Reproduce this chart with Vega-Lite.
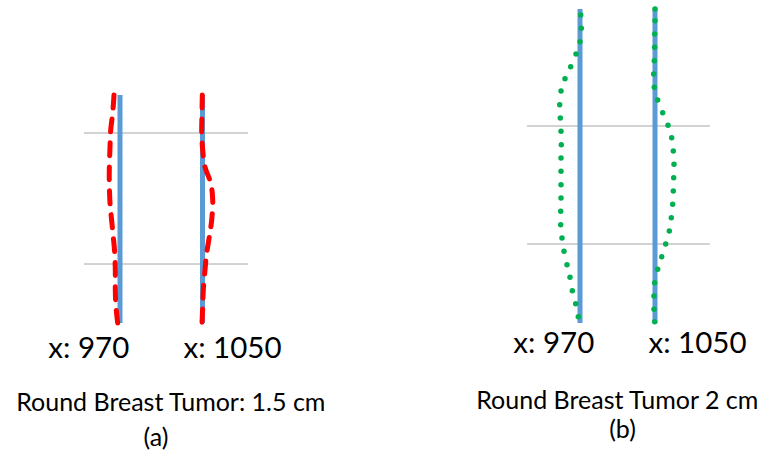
{
  "$schema": "https://vega.github.io/schema/vega-lite/v6.json",
  "width": 767,
  "height": 455,
  "autosize": {"type": "fit", "contains": "padding"},
  "padding": 0,
  "background": "white",
  "config": {"view": {"stroke": null}},
  "datasets": {
    "grid": [
      {"panel": "a", "x1": 84, "x2": 248, "y": 133},
      {"panel": "a", "x1": 84, "x2": 248, "y": 264},
      {"panel": "b", "x1": 527, "x2": 710, "y": 126},
      {"panel": "b", "x1": 527, "x2": 710, "y": 244}
    ],
    "slices": [
      {"panel": "a", "x": 120, "y1": 95, "y2": 323},
      {"panel": "a", "x": 202.5, "y1": 95, "y2": 323},
      {"panel": "b", "x": 580, "y1": 9, "y2": 323},
      {"panel": "b", "x": 655, "y1": 9, "y2": 323}
    ],
    "red": [
      {"curve": "970", "i": 1, "x": 114, "y": 95},
      {"curve": "970", "i": 2, "x": 112.7, "y": 113},
      {"curve": "970", "i": 3, "x": 110.7, "y": 130},
      {"curve": "970", "i": 4, "x": 110, "y": 147},
      {"curve": "970", "i": 5, "x": 109.3, "y": 170},
      {"curve": "970", "i": 6, "x": 109.3, "y": 183},
      {"curve": "970", "i": 7, "x": 110, "y": 203},
      {"curve": "970", "i": 8, "x": 111.3, "y": 217},
      {"curve": "970", "i": 9, "x": 113.3, "y": 237},
      {"curve": "970", "i": 10, "x": 114.7, "y": 253},
      {"curve": "970", "i": 11, "x": 115.3, "y": 270},
      {"curve": "970", "i": 12, "x": 115.3, "y": 290},
      {"curve": "970", "i": 13, "x": 116, "y": 307},
      {"curve": "970", "i": 14, "x": 117.7, "y": 323},
      {"curve": "1050", "i": 1, "x": 202.3, "y": 95},
      {"curve": "1050", "i": 2, "x": 202, "y": 113},
      {"curve": "1050", "i": 3, "x": 201.7, "y": 133},
      {"curve": "1050", "i": 4, "x": 202.7, "y": 150},
      {"curve": "1050", "i": 5, "x": 205, "y": 167},
      {"curve": "1050", "i": 6, "x": 210.7, "y": 183},
      {"curve": "1050", "i": 7, "x": 212.7, "y": 200},
      {"curve": "1050", "i": 8, "x": 211.7, "y": 220},
      {"curve": "1050", "i": 9, "x": 209.3, "y": 237},
      {"curve": "1050", "i": 10, "x": 206.7, "y": 253},
      {"curve": "1050", "i": 11, "x": 205, "y": 270},
      {"curve": "1050", "i": 12, "x": 203.3, "y": 290},
      {"curve": "1050", "i": 13, "x": 202.7, "y": 307},
      {"curve": "1050", "i": 14, "x": 202, "y": 323}
    ],
    "green": [
      {"curve": "970", "x": 580.7, "y": 15},
      {"curve": "970", "x": 581.3, "y": 28.3},
      {"curve": "970", "x": 580, "y": 41.7},
      {"curve": "970", "x": 576, "y": 54},
      {"curve": "970", "x": 570.7, "y": 66.7},
      {"curve": "970", "x": 565, "y": 78.7},
      {"curve": "970", "x": 561, "y": 91},
      {"curve": "970", "x": 559.7, "y": 104.7},
      {"curve": "970", "x": 560.3, "y": 118},
      {"curve": "970", "x": 561, "y": 131.3},
      {"curve": "970", "x": 561.3, "y": 144.7},
      {"curve": "970", "x": 561, "y": 158},
      {"curve": "970", "x": 561, "y": 171.3},
      {"curve": "970", "x": 561, "y": 184.7},
      {"curve": "970", "x": 561, "y": 198},
      {"curve": "970", "x": 560.7, "y": 211.3},
      {"curve": "970", "x": 560.7, "y": 224.7},
      {"curve": "970", "x": 562, "y": 238},
      {"curve": "970", "x": 564, "y": 251.3},
      {"curve": "970", "x": 567, "y": 264.7},
      {"curve": "970", "x": 570, "y": 277.3},
      {"curve": "970", "x": 572.3, "y": 290.7},
      {"curve": "970", "x": 575.7, "y": 303.7},
      {"curve": "970", "x": 578.3, "y": 316.7},
      {"curve": "1050", "x": 655, "y": 9},
      {"curve": "1050", "x": 655, "y": 20.7},
      {"curve": "1050", "x": 654.7, "y": 34},
      {"curve": "1050", "x": 654.7, "y": 47.3},
      {"curve": "1050", "x": 654.3, "y": 60.7},
      {"curve": "1050", "x": 653.7, "y": 74},
      {"curve": "1050", "x": 654.3, "y": 87.3},
      {"curve": "1050", "x": 657.7, "y": 100},
      {"curve": "1050", "x": 662.7, "y": 112.7},
      {"curve": "1050", "x": 668, "y": 125.3},
      {"curve": "1050", "x": 671.7, "y": 137.7},
      {"curve": "1050", "x": 673.3, "y": 151},
      {"curve": "1050", "x": 674, "y": 164.3},
      {"curve": "1050", "x": 673.7, "y": 177.7},
      {"curve": "1050", "x": 673.3, "y": 191},
      {"curve": "1050", "x": 672.7, "y": 204.3},
      {"curve": "1050", "x": 671.3, "y": 217.7},
      {"curve": "1050", "x": 669.3, "y": 231},
      {"curve": "1050", "x": 665.7, "y": 244},
      {"curve": "1050", "x": 661.7, "y": 256.7},
      {"curve": "1050", "x": 657.7, "y": 269.3},
      {"curve": "1050", "x": 654.7, "y": 282.7},
      {"curve": "1050", "x": 654, "y": 296},
      {"curve": "1050", "x": 654, "y": 309.3},
      {"curve": "1050", "x": 654.7, "y": 321.7}
    ],
    "xlabels": [
      {"text": "x: 970", "x": 88.8, "y": 358},
      {"text": "x: 1050", "x": 232.5, "y": 358},
      {"text": "x: 970", "x": 553.8, "y": 353},
      {"text": "x: 1050", "x": 697.5, "y": 353}
    ],
    "captions": [
      {"text": "Round Breast Tumor: 1.5 cm", "x": 170.8, "y": 411},
      {"text": "(a)", "x": 156, "y": 446},
      {"text": "Round Breast Tumor 2 cm", "x": 617.3, "y": 409},
      {"text": "(b)", "x": 622.5, "y": 438}
    ]
  },
  "layer": [
    {
      "data": {"name": "grid"},
      "mark": {"type": "rule", "color": "#A6A6A6", "strokeWidth": 1},
      "encoding": {
        "x": {"field": "x1", "type": "quantitative", "scale": {"domain": [0, 767], "nice": false, "zero": false}, "axis": null},
        "x2": {"field": "x2"},
        "y": {"field": "y", "type": "quantitative", "scale": {"domain": [0, 455], "nice": false, "zero": false, "reverse": true}, "axis": null}
      }
    },
    {
      "data": {"name": "slices"},
      "mark": {"type": "rule", "color": "#5B9BD5", "strokeWidth": 5},
      "encoding": {
        "x": {"field": "x", "type": "quantitative"},
        "y": {"field": "y1", "type": "quantitative"},
        "y2": {"field": "y2"}
      }
    },
    {
      "data": {"name": "red"},
      "mark": {"type": "line", "color": "#FF0000", "strokeWidth": 5, "strokeDash": [13, 11], "strokeCap": "round", "interpolate": "catmull-rom"},
      "encoding": {
        "x": {"field": "x", "type": "quantitative"},
        "y": {"field": "y", "type": "quantitative"},
        "detail": {"field": "curve"},
        "order": {"field": "i"}
      }
    },
    {
      "data": {"name": "green"},
      "mark": {"type": "point", "filled": true, "color": "#00B050", "size": 30, "opacity": 1},
      "encoding": {
        "x": {"field": "x", "type": "quantitative"},
        "y": {"field": "y", "type": "quantitative"}
      }
    },
    {
      "data": {"name": "xlabels"},
      "mark": {"type": "text", "font": "Lato", "fontSize": 29.5, "align": "center", "baseline": "alphabetic", "color": "#000000"},
      "encoding": {
        "x": {"field": "x", "type": "quantitative"},
        "y": {"field": "y", "type": "quantitative"},
        "text": {"field": "text"}
      }
    },
    {
      "data": {"name": "captions"},
      "mark": {"type": "text", "font": "Lato", "fontSize": 25, "align": "center", "baseline": "alphabetic", "color": "#000000"},
      "encoding": {
        "x": {"field": "x", "type": "quantitative"},
        "y": {"field": "y", "type": "quantitative"},
        "text": {"field": "text"}
      }
    }
  ]
}
